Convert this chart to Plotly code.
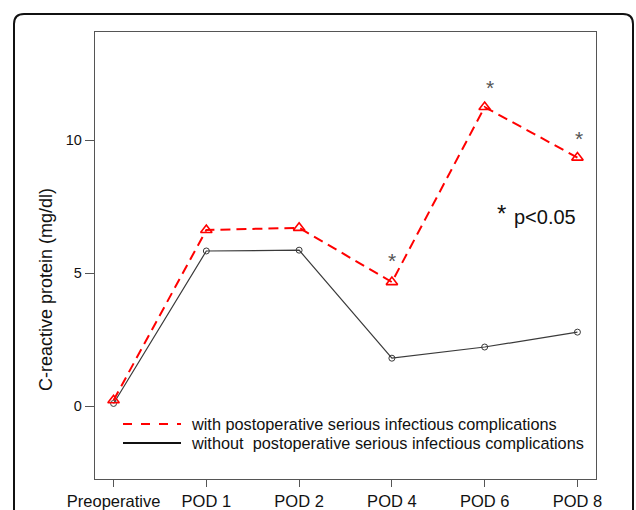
import plotly.graph_objects as go

categories = ["Preoperative", "POD 1", "POD 2", "POD 4", "POD 6", "POD 8"]
with_complications = [0.22, 6.62, 6.70, 4.66, 11.24, 9.34]
without_complications = [0.10, 5.83, 5.86, 1.80, 2.22, 2.78]
significant = ["POD 4", "POD 6", "POD 8"]
y_tick_vals = [0, 5, 10]
legend_labels = ["with postoperative serious infectious complications",
                 "without  postoperative serious infectious complications"]

FONT = "Liberation Sans, Arial, sans-serif"
W, H = 636, 510
L, R, T, B = 95, 40, 32, 31
PW, PH = W - L - R, H - T - B

def px(x):
    return (x - L) / PW

def py(y):
    return (H - B - y) / PH

fig = go.Figure()
fig.add_trace(go.Scatter(
    x=categories, y=without_complications, mode="lines+markers",
    name=legend_labels[1], showlegend=False,
    line=dict(color="#3a3a3a", width=1.2),
    marker=dict(symbol="circle-open", size=6, color="#3a3a3a", line=dict(width=1))))
fig.add_trace(go.Scatter(
    x=categories, y=with_complications, mode="lines+markers",
    name=legend_labels[0], showlegend=False,
    line=dict(color="#ff0000", width=2, dash="10px,6px"),
    marker=dict(symbol="triangle-up-open", size=10, color="#ff0000", line=dict(width=1.6))))

# significance stars
idx = {c: i for i, c in enumerate(categories)}
star_shift = {"POD 4": (0, 8), "POD 6": (5, 6), "POD 8": (2, 6)}
for c in significant:
    dx, dy = star_shift[c]
    fig.add_annotation(x=c, y=with_complications[idx[c]], text="*", showarrow=False,
                       xshift=dx, yshift=dy, yanchor="bottom",
                       font=dict(family=FONT, size=21, color="#555555"))

fig.add_annotation(xref="paper", yref="paper", x=px(512), y=py(217), text="p<0.05",
                   showarrow=False, xanchor="left", yanchor="middle",
                   font=dict(family=FONT, size=20, color="#111111"))
fig.add_annotation(xref="paper", yref="paper", x=px(501), y=py(213), text="*",
                   showarrow=False, xanchor="center", yanchor="middle",
                   font=dict(family=FONT, size=24, color="#111111"))

# y-axis title
fig.add_annotation(xref="paper", yref="paper", x=px(46), y=py(290),
                   text="C-reactive protein (mg/dl)", textangle=-90, showarrow=False,
                   xanchor="center", yanchor="middle",
                   font=dict(family=FONT, size=18, color="#111111"))

# manual legend
shapes = []
legend_rows = [(424, "#ff0000", "dash", 2), (443, "#111111", "solid", 1.8)]
for (yy, col, dash, wd), label in zip(legend_rows, legend_labels):
    shapes.append(dict(type="line", xref="paper", yref="paper",
                       x0=px(123), x1=px(181), y0=py(yy), y1=py(yy),
                       line=dict(color=col, width=wd, dash=dash)))
    fig.add_annotation(xref="paper", yref="paper", x=px(189), y=py(yy), text=label,
                       showarrow=False, xanchor="left", yanchor="middle",
                       font=dict(family=FONT, size=16.3, color="#111111"))

# outer rounded box
x0, x1 = px(14), px(633)
yt, yb = py(14), py(540)
rx, ry = 10 / PW, 10 / PH
path = (f"M {x0},{yb} L {x0},{yt - ry} Q {x0},{yt} {x0 + rx},{yt} "
        f"L {x1 - rx},{yt} Q {x1},{yt} {x1},{yt - ry} L {x1},{yb}")
shapes.append(dict(type="path", xref="paper", yref="paper", path=path,
                   line=dict(color="#111111", width=2)))

fig.update_layout(
    width=W, height=H, autosize=False, margin=dict(l=L, r=R, t=T, b=B, pad=0, autoexpand=False),
    paper_bgcolor="white", plot_bgcolor="white", showlegend=False,
    shapes=shapes,
    font=dict(family=FONT, color="#111111"),
)
fig.update_xaxes(type="category", categoryorder="array", categoryarray=categories,
                 range=[-0.2, 5.2], showgrid=False, zeroline=False, automargin=False,
                 showline=True, linecolor="#555555", linewidth=1.3, mirror=True,
                 ticks="outside", ticklen=7, tickcolor="#555555", tickwidth=1.2,
                 tickfont=dict(family=FONT, size=16.5, color="#111111"))
fig.update_yaxes(range=[-2.74, 14.06], tickvals=y_tick_vals, showgrid=False, zeroline=False,
                 automargin=False,
                 showline=True, linecolor="#555555", linewidth=1.3, mirror=True,
                 ticks="outside", ticklen=9, tickcolor="#555555", tickwidth=1.2,
                 tickfont=dict(family=FONT, size=14.5, color="#111111"))

fig.write_html("out.html", config={"responsive": False, "displayModeBar": False},
               post_script="document.body.style.margin='0';document.body.style.overflow='hidden';")
